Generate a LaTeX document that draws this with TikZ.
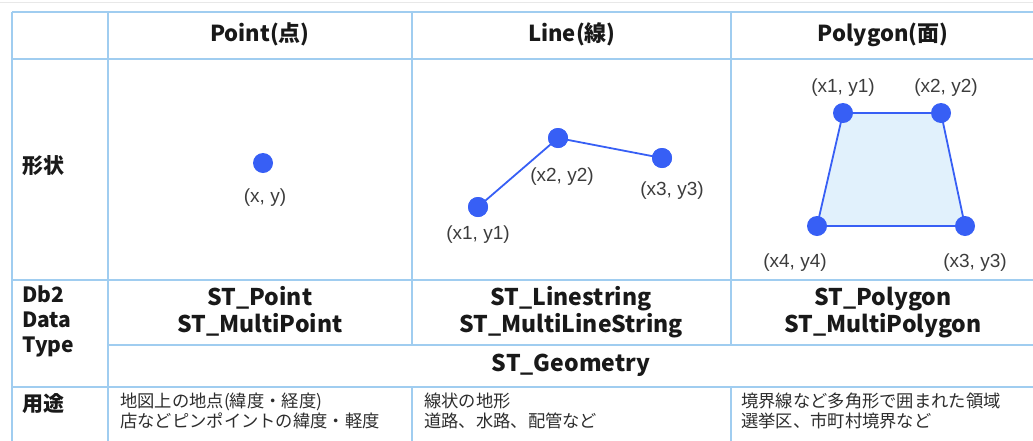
\documentclass[tikz,border=0pt]{standalone}
\usepackage{fontspec}
\setmainfont{Noto Sans CJK JP}
\newfontfamily\labfont{Liberation Sans}
\definecolor{gridc}{RGB}{160,205,240}
\definecolor{dotc}{RGB}{55,95,245}
\definecolor{polyfill}{RGB}{225,241,252}
\definecolor{txtc}{RGB}{25,25,25}
\definecolor{labc}{RGB}{60,60,60}
\definecolor{usec}{RGB}{45,45,45}
\definecolor{topline}{RGB}{232,232,232}
\tikzset{
  gridline/.style={draw=gridc,line width=1.6pt},
  hdr/.style={anchor=base,inner sep=0pt,font=\bfseries\fontsize{22}{26}\selectfont,text=txtc},
  rowhdr/.style={anchor=base west,inner sep=0pt,font=\bfseries\fontsize{21}{25}\selectfont,text=txtc,align=left},
  dtype/.style={anchor=base,inner sep=0pt,font=\bfseries\fontsize{23}{27}\selectfont,text=txtc,align=center},
  usage/.style={anchor=base west,inner sep=0pt,font=\fontsize{17.3}{20}\selectfont,text=usec,align=left},
  vtx/.style={circle,fill=dotc,minimum size=20pt,inner sep=0pt},
  coord/.style={inner sep=0pt,font=\labfont\fontsize{19}{22}\selectfont,text=labc},
  edge/.style={draw=dotc,line width=1.8pt}
}
\begin{document}
\begin{tikzpicture}[x=1pt,y=-1pt]
\useasboundingbox (0,0) rectangle (1033,440);
% faint top line
\draw[topline,line width=1pt] (0,2) -- (1033,2);
% table grid
\draw[gridline] (12,12) -- (1040,12);
\draw[gridline] (12,59) -- (1040,59);
\draw[gridline] (12,280) -- (1040,280);
\draw[gridline] (108,345) -- (1040,345);
\draw[gridline] (12,387) -- (1040,387);
\draw[gridline] (12,12) -- (12,445);
\draw[gridline] (108,12) -- (108,445);
\draw[gridline] (412,12) -- (412,345);
\draw[gridline] (412,387) -- (412,445);
\draw[gridline] (731,12) -- (731,345);
\draw[gridline] (731,387) -- (731,445);
% headers
\node[hdr] (hP) at (260,41) {Point(点)};
\node[hdr] (hL) at (572,41) {Line(線)};
\node[hdr] (hG) at (883,41) {Polygon(面)};
% row headers (base = last line)
\node[rowhdr] (rShape) at (22,173) {形状};
\node[rowhdr] (rDb) at (22,352) {Db2\\Data\\Type};
\node[rowhdr] (rUse) at (22,411) {用途};
% point
\node[vtx] (p) at (263,163) {};
\node[coord] (pl) at (265,198) {(x, y)};
% line
\node[vtx] (l1) at (478,207) {};
\node[vtx] (l2) at (558,138) {};
\node[vtx] (l3) at (662,158) {};
\draw[edge] (l1.center) -- (l2.center) -- (l3.center);
\node[vtx] at (l1) {};
\node[vtx] at (l2) {};
\node[vtx] at (l3) {};
\node[coord] (l1l) at (478,235) {(x1, y1)};
\node[coord] (l2l) at (562,177) {(x2, y2)};
\node[coord] (l3l) at (672,191) {(x3, y3)};
% polygon
\coordinate (q1) at (843,113);
\coordinate (q2) at (941,113);
\coordinate (q3) at (965,226);
\coordinate (q4) at (817,226);
\fill[polyfill] (q1) -- (q2) -- (q3) -- (q4) -- cycle;
\draw[edge,line join=round] (q1) -- (q2) -- (q3) -- (q4) -- cycle;
\node[vtx] (v1) at (q1) {};
\node[vtx] (v2) at (q2) {};
\node[vtx] (v3) at (q3) {};
\node[vtx] (v4) at (q4) {};
\node[coord] (v1l) at (843,88) {(x1, y1)};
\node[coord] (v2l) at (946,88) {(x2, y2)};
\node[coord] (v4l) at (795,263) {(x4, y4)};
\node[coord] (v3l) at (975,263) {(x3, y3)};
% data types (base = last line)
\node[dtype] (dP) at (260,332) {ST\_Point\\ST\_MultiPoint};
\node[dtype] (dL) at (571,332) {ST\_Linestring\\ST\_MultiLineString};
\node[dtype] (dG) at (883,332) {ST\_Polygon\\ST\_MultiPolygon};
\node[dtype] (dGeo) at (571,371) {ST\_Geometry};
% usage (base = last line)
\node[usage] (uP) at (120,427) {地図上の地点(緯度・経度)\\店などピンポイントの緯度・軽度};
\node[usage] (uL) at (424,427) {線状の地形\\道路、水路、配管など};
\node[usage] (uG) at (741,427) {境界線など多角形で囲まれた領域\\選挙区、市町村境界など};
\end{tikzpicture}
\end{document}
